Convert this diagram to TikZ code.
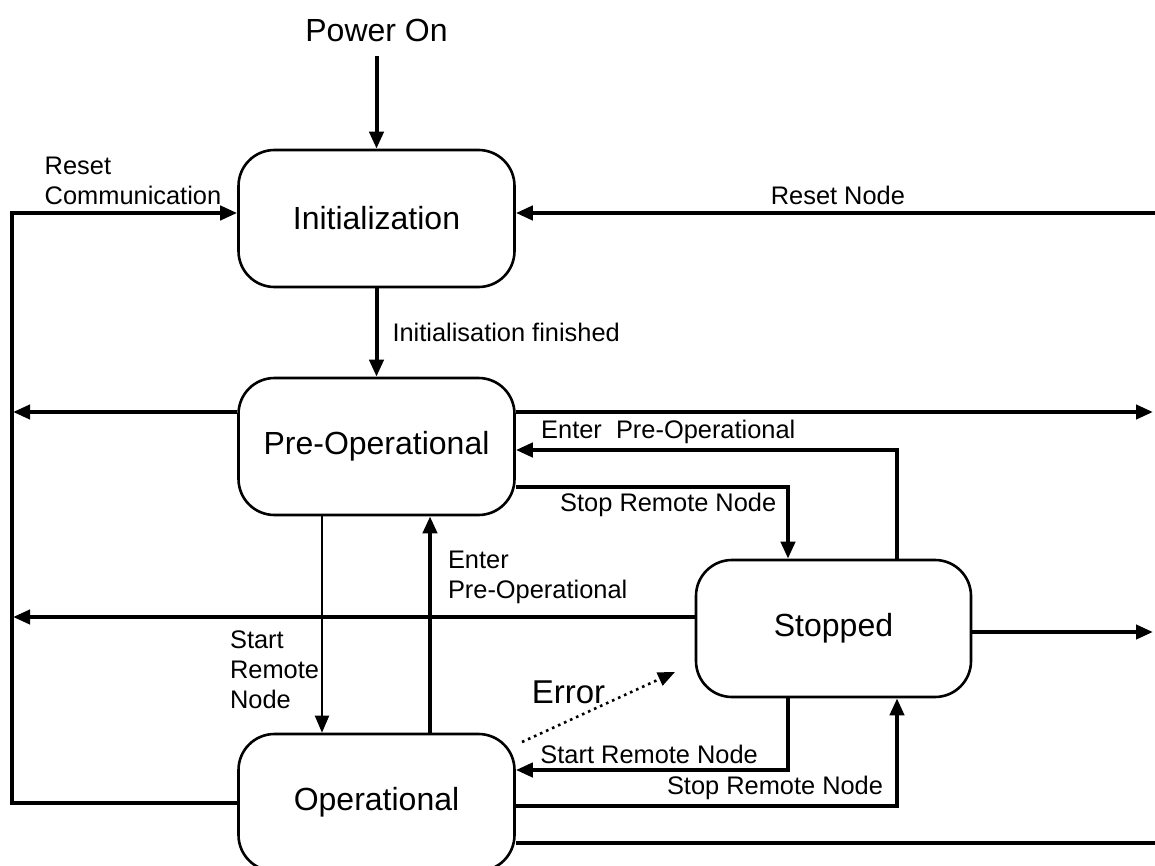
\documentclass[tikz,border=0pt]{standalone}
\usepackage{fontspec}
\setmainfont{Liberation Sans}
\usetikzlibrary{arrows.meta, calc, positioning}

\begin{document}
\begin{tikzpicture}[line join=miter, x=0.5pt, y=-0.5pt,
  state/.style={draw, line width=1.3pt, rounded corners=18pt, minimum width=138pt, minimum height=68.5pt, font=\fontsize{16}{19}\selectfont},
  arr/.style={line width=2pt, -{Triangle[length=8.5pt,width=7pt]}},
  thinarr/.style={line width=1pt, -{Triangle[length=8.5pt,width=7pt]}},
  lbl/.style={font=\fontsize{12.7}{15}\selectfont, inner sep=2pt}]
\clip (0,0) rectangle (1155,866);

% States
\node [state] (init) at (376.5,218.5) {Initialization};
\node [state] (preop) at (376.5,446.5) {Pre-Operational};
\node [state] (oper) at (376.5,802.5) {Operational};
\node [state, minimum width=137.5pt] (stopped) at (833.5,628.5) {Stopped};
\node [font=\fontsize{16}{19}\selectfont] (power) at (376.5,30) {Power On};

% Corner points and free ends
\coordinate (rtop) at (12,213);
\coordinate (rbot) at (12,803);
\coordinate (l1) at (13,412);
\coordinate (l2) at (13,617);
\coordinate (e1) at (1160,213);
\coordinate (e2) at (1153,412);
\coordinate (e3) at (1153,632);
\coordinate (e4) at (1160,843);
\coordinate (c1) at (897,450);
\coordinate (c2) at (788,487);
\coordinate (c4) at (788,770);
\coordinate (c5) at (897,806);
\coordinate (sx) at (322,600);
\coordinate (ex) at (430,600);
\coordinate (er1) at (522,742);
\coordinate (er2) at (675,672);

% Power on and reset
\draw [arr, shorten <=4pt] (power) -- (init);
\draw [arr] (e1) -- (e1 -| init.east) node [lbl, midway, above, yshift=1pt] {Reset Node};
\draw [arr] (oper.west |- rbot) -- (rbot) -- (rtop) -- (rtop -| init.west)
  node [lbl, above left, align=left, xshift=-5pt, yshift=1pt] {Reset\\Communication};
\draw [arr] (init) -- (preop) node [lbl, midway, right, xshift=5pt] {Initialisation finished};

% Lines to the rail and the right edge
\draw [arr] (preop.west |- l1) -- (l1);
\draw [arr] (preop.east |- e2) -- (e2);
\draw [arr] (stopped.west |- l2) -- (l2);
\draw [arr] (stopped.east |- e3) -- (e3);
\draw [line width=2pt] (oper.east |- e4) -- (e4);

% Pre-Operational <-> Stopped
\draw [arr] (c1 |- stopped.north) -- (c1) -- (c1 -| preop.east)
  node [lbl, pos=0.6, above] {Enter\ \ Pre-Operational};
\draw [arr] (preop.east |- c2) -- (c2)
  node [lbl, pos=0.56, below] {Stop Remote Node} -- (c2 |- stopped.north);

% Pre-Operational <-> Operational
\draw [thinarr] (sx |- preop.south) -- (sx |- oper.north)
  node [lbl, pos=0.71, left, align=left, inner sep=1pt] {Start\\Remote\\Node};
\draw [arr] (ex |- oper.north) -- (ex |- preop.south)
  node [lbl, pos=0.72, right, align=left, xshift=6pt] {Enter\\Pre-Operational};

% Stopped <-> Operational
\draw [arr] (c4 |- stopped.south) -- (c4) -- (c4 -| oper.east)
  node [lbl, pos=0.51, above] {Start Remote Node};
\draw [arr] (oper.east |- c5) -- (c5) node [lbl, pos=0.68, above] {Stop Remote Node}
  -- (c5 |- stopped.south);

% Error
\draw [arr, line width=1.3pt, dotted] (er1) -- (er2)
  node [pos=0.5, anchor=south east, inner sep=0pt, xshift=4pt, yshift=1pt, font=\fontsize{16.5}{19}\selectfont] {Error};
\end{tikzpicture}
\end{document}
